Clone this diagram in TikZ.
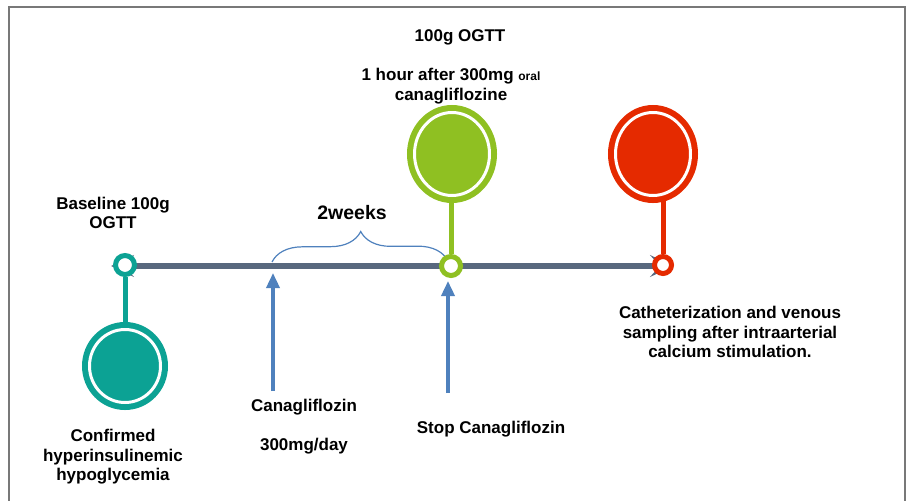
\documentclass[tikz,border=0pt]{standalone}
\usepackage{fontspec}
\setmainfont{Liberation Sans}
\usetikzlibrary{shapes.geometric,arrows.meta,decorations.pathreplacing}
\definecolor{tealc}{RGB}{12,162,148}
\definecolor{greenc}{RGB}{143,192,34}
\definecolor{redc}{RGB}{229,42,0}
\definecolor{linec}{RGB}{88,104,126}
\definecolor{bluec}{RGB}{79,129,189}
\definecolor{framec}{RGB}{120,120,120}
\tikzset{
  lbl/.style={font=\bfseries\fontsize{17}{19.5}\selectfont, align=center, inner sep=0pt, text=black},
  bigc/.style={ellipse, inner sep=0pt, fill=#1, draw=#1, line width=6pt, double=white, double distance=3pt},
  smallc/.style={circle, inner sep=0pt, minimum size=19pt, fill=white, draw=#1, line width=5pt},
  stem/.style={line width=5pt, draw=#1},
  uparrow/.style={draw=bluec, line width=3.5pt, -{Triangle[length=15pt,width=13pt]}},
}
\begin{document}
\begin{tikzpicture}[x=1pt,y=-1pt]
\useasboundingbox (0,0) rectangle (911,501);
% frame
\draw[framec, line width=1.5pt] (9,502) -- (9,7) -- (905,7) -- (905,502);
% timeline
\coordinate (tl) at (111,266);
\coordinate (tr) at (673,266);
\draw[linec, line width=6pt, {Stealth[length=23pt,width=22pt,inset=10pt]}-{Stealth[length=23pt,width=22pt,inset=10pt]}] (tl) -- (tr);
% brace
\coordinate (bl) at (272,262);
\coordinate (br) at (448,261);
\draw[bluec, line width=1.2pt, decorate, decoration={brace, amplitude=30pt, aspect=0.505}] (bl) -- (br);
% blue arrows
\coordinate (a1s) at (273,391);
\coordinate (a1e) at (273,273);
\coordinate (a2s) at (448,393);
\coordinate (a2e) at (448,281);
\draw[uparrow] (a1s) -- (a1e);
\draw[uparrow] (a2s) -- (a2e);
% teal
\node[bigc=tealc, minimum width=71pt, minimum height=73pt] (tbig) at (125,366) {};
\node[smallc=tealc] (tsmall) at (125,265) {};
\draw[stem=tealc] (tsmall.south) -- (tbig.north);
% green
\node[bigc=greenc, minimum width=75pt, minimum height=83pt] (gbig) at (452,154) {};
\node[smallc=greenc] (gsmall) at (451,266) {};
\draw[stem=greenc] (gsmall.north) -- (gsmall.north |- gbig.south);
% red
\node[bigc=redc, minimum width=75pt, minimum height=83pt] (rbig) at (653,154) {};
\node[smallc=redc, minimum size=17pt] (rsmall) at (663,265) {};
\draw[stem=redc] (rsmall.north) -- (rsmall.north |- rbig.south);
% labels
\node[lbl] (t1) at (460,37) {100g OGTT};
\node[lbl] (t2) at (451,86) {1 hour after 300mg {\fontsize{12}{13}\selectfont oral}\\canagliflozine};
\node[lbl] (t3) at (113,213) {Baseline 100g\\OGTT};
\node[lbl, font=\bfseries\fontsize{19.5}{22}\selectfont] (t4) at (352,213) {2weeks};
\node[lbl] (t5) at (304,407) {Canagliflozin};
\node[lbl] (t6) at (304,446) {300mg/day};
\node[lbl] (t7) at (491,429) {Stop Canagliflozin};
\node[lbl] (t8) at (730,332) {Catheterization and venous\\sampling after intraarterial\\calcium stimulation.};
\node[lbl] (t9) at (113,457) {Confirmed\\hyperinsulinemic\\hypoglycemia};
\end{tikzpicture}
\end{document}
